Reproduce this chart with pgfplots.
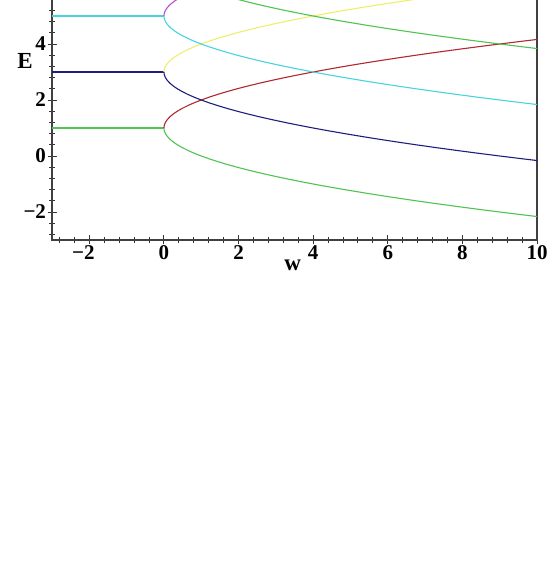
\documentclass[border=0pt]{standalone}
\usepackage{pgfplots}
\pgfplotsset{compat=1.18}
\usepackage{pgfplotstable}
\usepackage{fontspec}
\setmainfont{Liberation Serif}

\definecolor{cgreen}{RGB}{80,195,80}
\definecolor{cred}{RGB}{175,40,50}
\definecolor{cblue}{RGB}{30,30,125}
\definecolor{cyellow}{RGB}{238,238,110}
\definecolor{ccyan}{RGB}{70,212,222}
\definecolor{cmag}{RGB}{185,80,205}

\pgfplotstableread{
w     g1     r1     b3     y3     c5     m5     g7
0     1      1      3      3      5      5      7
0.01  0.9    1.1    2.9    3.1    4.9    5.1    6.9
0.04  0.8    1.2    2.8    3.2    4.8    5.2    6.8
0.09  0.7    1.3    2.7    3.3    4.7    5.3    6.7
0.16  0.6    1.4    2.6    3.4    4.6    5.4    6.6
0.25  0.5    1.5    2.5    3.5    4.5    5.5    6.5
0.36  0.4    1.6    2.4    3.6    4.4    5.6    6.4
0.49  0.3    1.7    2.3    3.7    4.3    5.7    6.3
0.64  0.2    1.8    2.2    3.8    4.2    5.8    6.2
0.81  0.1    1.9    2.1    3.9    4.1    5.9    6.1
1     0      2      2      4      4      6      6
1.21  -0.1   2.1    1.9    4.1    3.9    6.1    5.9
1.44  -0.2   2.2    1.8    4.2    3.8    6.2    5.8
1.69  -0.3   2.3    1.7    4.3    3.7    6.3    5.7
1.96  -0.4   2.4    1.6    4.4    3.6    6.4    5.6
2.25  -0.5   2.5    1.5    4.5    3.5    6.5    5.5
2.56  -0.6   2.6    1.4    4.6    3.4    6.6    5.4
2.89  -0.7   2.7    1.3    4.7    3.3    6.7    5.3
3.24  -0.8   2.8    1.2    4.8    3.2    6.8    5.2
3.61  -0.9   2.9    1.1    4.9    3.1    6.9    5.1
4     -1     3      1      5      3      7      5
4.41  -1.1   3.1    0.9    5.1    2.9    7.1    4.9
4.84  -1.2   3.2    0.8    5.2    2.8    7.2    4.8
5.29  -1.3   3.3    0.7    5.3    2.7    7.3    4.7
5.76  -1.4   3.4    0.6    5.4    2.6    7.4    4.6
6.25  -1.5   3.5    0.5    5.5    2.5    7.5    4.5
6.76  -1.6   3.6    0.4    5.6    2.4    7.6    4.4
7.29  -1.7   3.7    0.3    5.7    2.3    7.7    4.3
7.84  -1.8   3.8    0.2    5.8    2.2    7.8    4.2
8.41  -1.9   3.9    0.1    5.9    2.1    7.9    4.1
9     -2     4      0      6      2      8      4
9.61  -2.1   4.1    -0.1   6.1    1.9    8.1    3.9
10    -2.162 4.162  -0.162 6.162  1.838  8.162  3.838
}\data

\begin{document}
\begin{tikzpicture}
\useasboundingbox (0,0) rectangle (550pt,564pt);
\clip (0,0) rectangle (550pt,564pt);
\begin{axis}[
  at={(52pt,324pt)}, anchor=south west,
  scale only axis, width=485pt, height=252pt,
  xmin=-3, xmax=10, ymin=-3, ymax=6,
  xtick={-2,0,2,4,6,8,10},
  xticklabels={\llap{−}2,0,2,4,6,8,10},
  ytick={-2,0,2,4},
  yticklabels={−2,0,2,4},
  minor xtick={-2.8,-2.4,-1.6,-1.2,-0.8,-0.4,0.4,0.8,1.2,1.6,2.4,2.8,3.2,3.6,4.4,4.8,5.2,5.6,6.4,6.8,7.2,7.6,8.4,8.8,9.2,9.6},
  minor ytick={-2.8,-2.4,-1.6,-1.2,-0.8,-0.4,0.4,0.8,1.2,1.6,2.4,2.8,3.2,3.6,4.4,4.8,5.2,5.6},
  xtick pos=bottom, ytick pos=left,
  tick align=center,
  major tick length=9pt, minor tick length=6pt,
  every tick/.style={black!80, line width=0.9pt},
  axis line style={black!75, line width=1.1pt},
  tick label style={font=\fontsize{21}{24}\selectfont\bfseries},
  xticklabel style={yshift=2pt},
  yticklabel style={xshift=2pt},
  xlabel={w}, ylabel={E},
  xlabel style={at={(axis cs:3.45,-3)}, anchor=north, yshift=-16pt, font=\fontsize{23}{26}\selectfont\bfseries},
  ylabel style={at={(axis cs:-3.72,3.40)}, anchor=center, rotate=-90, font=\fontsize{23}{26}\selectfont\bfseries},
  clip=true,
]
\addplot[cgreen, line width=1.1pt] coordinates {(-3,1) (0,1)};
\addplot[cblue, line width=1.1pt] coordinates {(-3,3) (0,3)};
\addplot[ccyan, line width=1.1pt] coordinates {(-3,5) (0,5)};
\addplot[cgreen, line width=1.1pt] table[x=w,y=g1]{\data};
\addplot[cred, line width=1.1pt] table[x=w,y=r1]{\data};
\addplot[cblue, line width=1.1pt] table[x=w,y=b3]{\data};
\addplot[cyellow, line width=1.1pt] table[x=w,y=y3]{\data};
\addplot[ccyan, line width=1.1pt] table[x=w,y=c5]{\data};
\addplot[cmag, line width=1.1pt] table[x=w,y=m5]{\data};
\addplot[cgreen, line width=1.1pt] table[x=w,y=g7]{\data};
\end{axis}
\end{tikzpicture}
\end{document}
